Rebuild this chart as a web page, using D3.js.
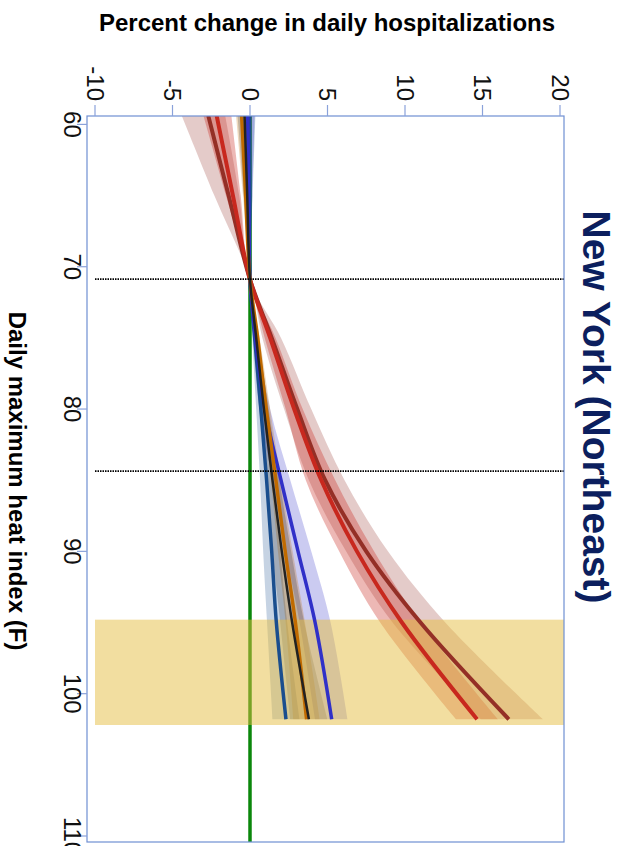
<!DOCTYPE html>
<html><head><meta charset="utf-8">
<script src="https://cdn.jsdelivr.net/npm/d3@7/dist/d3.min.js"></script>
<style>body{margin:0;background:#fff}svg{display:block}text{font-family:"Liberation Sans",Arial,sans-serif}</style>
</head><body>
<svg id="c" width="621" height="846"></svg>
<script>
// ---- data ----
const temps = [59.4, 65, 70.9, 75, 80, 85, 90, 95, 101.8];
const tempTicks = [60, 70, 80, 90, 100, 110];
const valueTicks = [-10, -5, 0, 5, 10, 15, 20];
const refLines = [70.87, 84.36];
const extremeBand = [94.8, 102.2];

const steelMean = [-0.05, -0.02, 0, 0.3, 0.7, 1.07, 1.4, 1.7, 2.32];
const steelLo   = [-0.4, -0.2, 0, 0.15, 0.4, 0.65, 0.85, 1.1, 1.46];
const steelHi   = [0.35, 0.17, 0, 0.45, 1.0, 1.5, 1.95, 2.4, 3.2];

const violetMean = [-0.15, -0.08, 0, 0.35, 0.95, 2.0, 3.1, 4.2, 5.27];
const violetLo   = [-0.6, -0.3, 0, 0.2, 0.6, 1.45, 2.3, 3.2, 4.2];
const violetHi   = [0.3, 0.15, 0, 0.5, 1.3, 2.6, 3.95, 5.2, 6.3];

const blackMean = [-0.35, -0.18, 0, 0.4, 0.9, 1.45, 2.05, 2.72, 3.8];
const blackLo   = [-0.8, -0.4, 0, 0.25, 0.6, 1.05, 1.45, 1.95, 2.6];
const blackHi   = [0.1, 0.05, 0, 0.55, 1.2, 1.9, 2.65, 3.5, 5.0];

const orangeMean = [-0.54, -0.28, 0, 0.5, 1.05, 1.67, 2.27, 2.93, 3.65];
const orangeLo   = [-0.9, -0.45, 0, 0.38, 0.85, 1.35, 1.8, 2.3, 2.8];
const orangeHi   = [-0.2, -0.1, 0, 0.62, 1.3, 2.0, 2.75, 3.55, 4.5];

const redMean = [-2.15, -1.1, 0, 1.3, 2.85, 4.6, 6.9, 9.8, 14.65];
const redLo   = [-3.0, -1.55, 0, 0.95, 2.3, 3.6, 5.75, 8.4, 13.3];
const redHi   = [-1.2, -0.6, 0, 1.65, 3.4, 5.5, 8.0, 11.0, 16.0];

const darkRedMean = [-2.69, -1.38, 0, 1.4, 3.05, 4.85, 7.5, 11.0, 16.7];
const darkRedLo   = [-4.4, -2.3, 0, 0.8, 2.2, 3.8, 6.2, 9.2, 14.9];
const darkRedHi   = [-1.6, -0.7, 0, 2.0, 3.95, 6.1, 8.9, 12.6, 18.9];

const series = [
  {mean: darkRedMean, lo: darkRedLo, hi: darkRedHi, color: "#942f26", bandOp: 0.25, w: 4},
  {mean: redMean, lo: redLo, hi: redHi, color: "#c8281e", bandOp: 0.33, w: 4},
  {mean: steelMean, lo: steelLo, hi: steelHi, color: "#1a4e8e", bandOp: 0.25, w: 3.5},
  {mean: violetMean, lo: violetLo, hi: violetHi, color: "#3030c8", bandOp: 0.25, w: 3.5},
  {mean: orangeMean, lo: orangeLo, hi: orangeHi, color: "#c06a00", bandOp: 0.25, w: 3.5},
  {mean: blackMean, lo: blackLo, hi: blackHi, color: "#222222", bandOp: 0.22, w: 2.5}
];

// ---- layout ----
const svg = d3.select("#c");
const frame = {left: 87, right: 564, top: 116, bottom: 842};
const yT = d3.scaleLinear().domain([60, 110]).range([124.4, 836]);
const xV = d3.scaleLinear().domain([-10, 20]).range([95, 560]);
const axisColor = "#8aa2da";
const smooth = d3.curveCatmullRom.alpha(0.5);

const plot = svg.append("g");
svg.append("clipPath").attr("id", "pc").append("rect")
  .attr("x", frame.left).attr("y", frame.top)
  .attr("width", frame.right - frame.left).attr("height", frame.bottom - frame.top);
const pg = plot.append("g").attr("clip-path", "url(#pc)");

// zero reference line
pg.append("line").attr("x1", xV(0)).attr("x2", xV(0))
  .attr("y1", frame.top).attr("y2", frame.bottom)
  .attr("stroke", "#0b870b").attr("stroke-width", 3.5);

// CI bands
const area = d3.area().curve(smooth)
  .y((d, i) => yT(temps[i])).x0(d => xV(d[0])).x1(d => xV(d[1]));
series.forEach(s => {
  const pts = temps.map((t, i) => [s.lo[i], s.hi[i]]);
  pg.append("path").attr("d", area(pts)).attr("fill", s.color).attr("fill-opacity", s.bandOp);
});

// extreme heat band
pg.append("rect").attr("x", xV(-10)).attr("width", frame.right - xV(-10))
  .attr("y", yT(extremeBand[0])).attr("height", yT(extremeBand[1]) - yT(extremeBand[0]))
  .attr("fill", "#e6be41").attr("fill-opacity", 0.5);

// mean lines
const line = d3.line().curve(smooth)
  .y((d, i) => yT(temps[i])).x(d => xV(d));
series.forEach(s => {
  pg.append("path").attr("d", line(s.mean)).attr("fill", "none")
    .attr("stroke", s.color).attr("stroke-width", s.w);
});

// dotted reference temperatures
refLines.forEach(t => {
  pg.append("line").attr("x1", xV(-10)).attr("x2", frame.right)
    .attr("y1", yT(t)).attr("y2", yT(t))
    .attr("stroke", "#000").attr("stroke-width", 1.6).attr("stroke-dasharray", "1.5,1");
});

// frame
svg.append("rect").attr("x", frame.left).attr("y", frame.top)
  .attr("width", frame.right - frame.left).attr("height", frame.bottom - frame.top)
  .attr("fill", "none").attr("stroke", "#6f8fd2").attr("stroke-width", 1.2);

// temperature axis (left)
const tAxis = svg.append("g");
tempTicks.forEach(t => {
  tAxis.append("line").attr("x1", frame.left - 10).attr("x2", frame.left)
    .attr("y1", yT(t)).attr("y2", yT(t)).attr("stroke", axisColor).attr("stroke-width", 1.2);
  tAxis.append("text").attr("transform", `translate(64,${yT(t)}) rotate(90)`)
    .attr("text-anchor", "middle").attr("font-size", 24).attr("fill", "#111").text(t);
});
// value axis (top)
const vAxis = svg.append("g");
valueTicks.forEach(v => {
  vAxis.append("line").attr("x1", xV(v)).attr("x2", xV(v))
    .attr("y1", frame.top - 11).attr("y2", frame.top).attr("stroke", axisColor).attr("stroke-width", 1.2);
  vAxis.append("text").attr("transform", `translate(${xV(v)},101) rotate(90)`)
    .attr("text-anchor", "end").attr("dy", "0.35em").attr("font-size", 24).attr("fill", "#111").text(v);
});

// titles
svg.append("text").attr("x", 327).attr("y", 31).attr("text-anchor", "middle")
  .attr("font-size", 24).attr("font-weight", "bold").attr("fill", "#000")
  .text("Percent change in daily hospitalizations");
svg.append("text").attr("transform", "translate(9,481) rotate(90)").attr("text-anchor", "middle")
  .attr("font-size", 24).attr("font-weight", "bold").attr("fill", "#000")
  .text("Daily maximum heat index (F)");
svg.append("text").attr("transform", "translate(583,407) rotate(90)").attr("text-anchor", "middle")
  .attr("font-size", 39).attr("font-weight", "bold").attr("fill", "#0c1f5e")
  .text("New York (Northeast)");
</script>
</body></html>
